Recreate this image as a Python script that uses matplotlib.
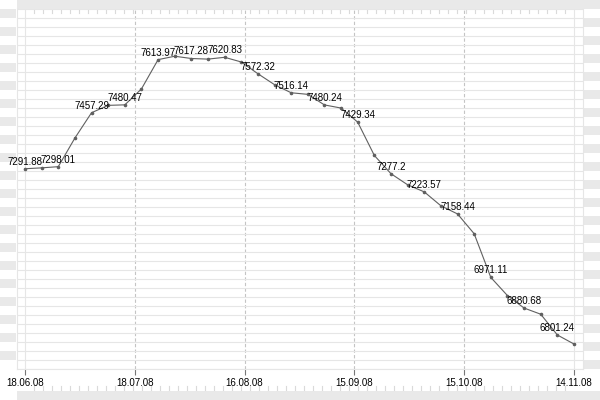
import numpy as np
import matplotlib
matplotlib.use('Agg')
from matplotlib import pyplot as plt
from matplotlib.patches import Rectangle

plt.rcParams['font.family'] = ['Liberation Sans', 'DejaVu Sans']

# data
values = [7291.88, 7294.5, 7298.01, 7382.6, 7457.29, 7479.0, 7480.47, 7527.5,
          7613.97, 7624.0, 7617.28, 7615.5, 7620.83, 7607.0, 7572.32, 7540.0,
          7516.14, 7511.5, 7480.24, 7471.0, 7429.34, 7331.0, 7277.2, 7244.5,
          7223.57, 7182.5, 7158.44, 7100.0, 6971.11, 6917.5, 6880.68, 6862.5,
          6801.24, 6774.5]
tick_labels = ['18.06.08', '18.07.08', '16.08.08', '15.09.08', '15.10.08', '14.11.08']

grey = '#e9e9e9'
grid_c = '#e6e6e6'

fig = plt.figure(figsize=(6, 4), dpi=100)

# background frame, in pixel units
bg = fig.add_axes([0, 0, 1, 1], zorder=0)
bg.set_xlim(0, 600)
bg.set_ylim(400, 0)
bg.axis('off')
bg.add_patch(Rectangle((17, 0), 583, 9, color=grey, lw=0))
bg.add_patch(Rectangle((17, 391), 583, 9, color=grey, lw=0))
for y in range(9, 369, 18):
    bg.add_patch(Rectangle((0, y), 16, 9, color=grey, lw=0))
for y in range(18, 369, 18):
    bg.add_patch(Rectangle((584, y), 16, 9, color=grey, lw=0))
for x in range(34, 574, 9):
    bg.plot([x, x], [10, 13], color='#dadada', lw=0.8)
    bg.plot([x, x], [386, 390], color='#dadada', lw=0.8)

# main plot
ax = fig.add_axes([17 / 600, 31 / 400, 566 / 600, 360 / 400], zorder=1)
ax.patch.set_alpha(0)
n = len(values)
x = np.arange(n)
ppi = 549 / (n - 1)
ax.set_xlim(-8 / ppi, n - 1 + 9 / ppi)
ax.set_ylim(6700.8, 7763.4)

ax.set_yticks(np.linspace(6700.8, 7763.4, 41))
ax.yaxis.grid(True, color=grid_c, lw=0.8)
ax.tick_params(axis='y', left=False, labelleft=False)

ticks = np.linspace(0, n - 1, len(tick_labels))
ax.set_xticks(ticks)
ax.set_xticklabels(tick_labels, fontsize=7)
ax.tick_params(axis='x', length=4.5, width=0.8, color='#777777', pad=2)
for t in ticks[1:-1]:
    ax.axvline(t, color='#c4c4c4', lw=0.8, ls=(0, (3, 2)), zorder=0)
ax.axvline(0, color=grid_c, lw=0.8, zorder=0)
ax.axvline(n - 1, color=grid_c, lw=0.8, zorder=0)

for side in ['left', 'right', 'bottom']:
    ax.spines[side].set_color(grid_c)
    ax.spines[side].set_linewidth(0.8)
ax.spines['top'].set_visible(False)
ax.set_axisbelow(True)

ax.plot(x, values, color='#606060', lw=0.8, marker='o', ms=1.6, zorder=3)
for i in range(0, n, 2):
    ax.annotate(str(values[i]), (x[i], values[i]), xytext=(0, 1.5),
                textcoords='offset points', ha='center', va='bottom',
                fontsize=7, color='black', zorder=4)

fig.savefig('out.png', dpi=100)
